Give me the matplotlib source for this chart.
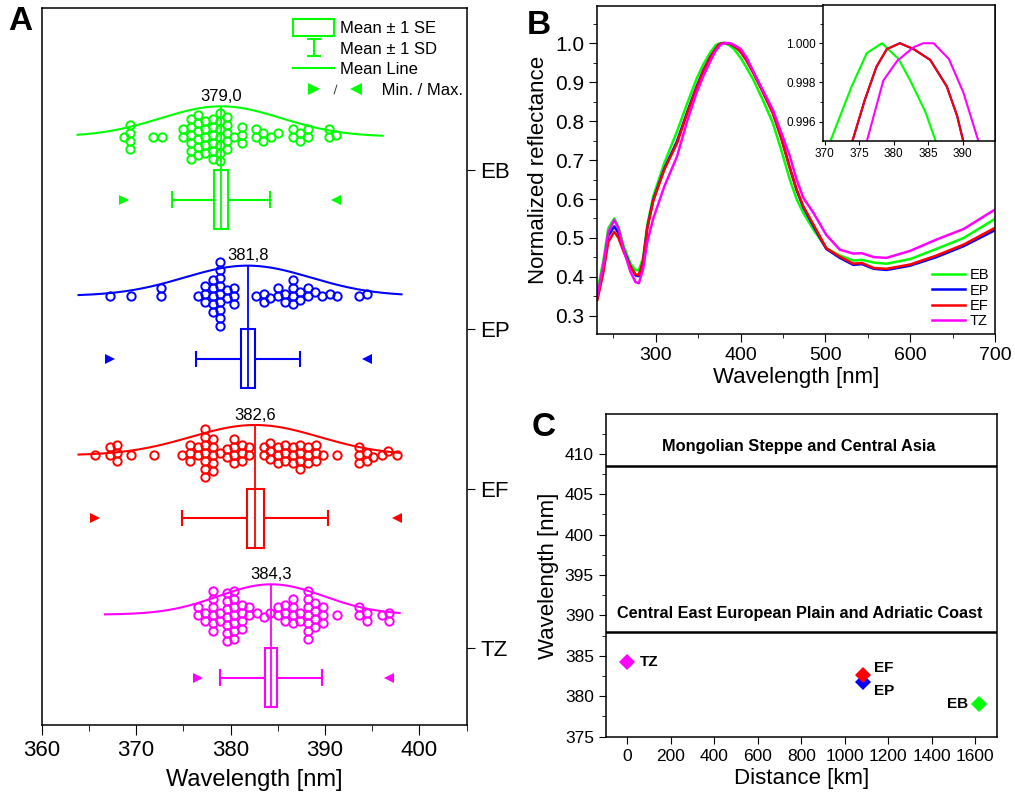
### Imports ###
import numpy as np
import matplotlib
matplotlib.use('Agg')
import matplotlib.pyplot as plt
from matplotlib.patches import Rectangle
from matplotlib.lines import Line2D
from matplotlib.legend_handler import HandlerTuple, HandlerPatch
from matplotlib.ticker import MultipleLocator, FormatStrFormatter

plt.rcParams['font.family'] = ['Liberation Sans', 'DejaVu Sans']
plt.rcParams['axes.linewidth'] = 1.1

### Data ###
groups = ['EB', 'EP', 'EF', 'TZ']
colors = ['#00ff00', '#0000ff', '#ff0000', '#ff00ff']

# panel A summary values
means = [379.0, 381.8, 382.6, 384.3]
se = [0.74, 0.75, 0.9, 0.65]
sd = [5.2, 5.5, 7.75, 5.4]
curve_sigma = [6.4, 6.7, 6.8, 5.6]
curve_lo = [363.8, 363.9, 363.9, 366.7]
curve_hi = [396.1, 398.1, 397.9, 397.9]

# panel A individual measurements (nm)
eb_vals = [368.7, 369.4, 369.4, 369.4, 369.4, 371.8, 372.7, 375.0, 375.0,
           375.8, 375.8, 375.8, 375.8, 375.8, 375.8,
           376.5, 376.5, 376.5, 376.5, 376.5, 376.5,
           377.3, 377.3, 377.3, 377.3, 377.3,
           378.1, 378.1, 378.1, 378.1, 378.1, 378.1,
           378.9, 378.9, 378.9, 378.9, 378.9, 378.9, 378.9,
           379.6, 379.6, 379.6, 379.6, 379.6, 380.4, 381.2, 381.2, 381.2,
           382.7, 382.7, 383.4, 383.4, 384.3, 385.0, 386.6, 386.6,
           387.3, 387.3, 388.2, 388.2, 390.4, 390.4, 391.2]
ep_vals = [367.2, 369.5, 372.6, 372.6, 376.5, 377.3, 377.3, 377.3,
           378.1, 378.1, 378.1, 378.1, 378.1,
           378.9, 378.9, 378.9, 378.9, 378.9, 378.9, 378.9, 378.9, 378.9,
           379.6, 379.6, 380.4, 380.4, 380.4,
           382.7, 383.5, 383.5, 384.2, 385.0, 385.0, 385.8, 385.8,
           386.6, 386.6, 386.6, 386.6, 387.3, 387.3, 388.2, 388.2,
           388.9, 389.7, 390.5, 391.3, 393.6, 394.4]
ef_vals = [365.6, 367.2, 367.2, 368.0, 368.0, 368.0, 369.5, 371.9,
           374.9, 375.7, 375.7, 375.7, 376.5, 376.5,
           377.3, 377.3, 377.3, 377.3, 377.3, 377.3, 377.3,
           378.1, 378.1, 378.1, 378.1, 378.1, 378.9, 379.6, 379.6,
           380.4, 380.4, 380.4, 380.4, 381.2, 381.2, 381.2, 382.0, 382.0,
           383.5, 383.5, 384.2, 384.2, 384.2, 385.0, 385.0, 385.0,
           385.8, 385.8, 385.8, 386.6, 386.6, 386.6,
           387.4, 387.4, 387.4, 387.4, 388.2, 388.2, 388.2,
           389.0, 389.0, 389.0, 389.8, 391.3, 393.6, 393.6, 393.6,
           394.4, 394.4, 395.1, 396.0, 396.7, 397.6]
tz_vals = [376.5, 376.5, 377.3, 377.3,
           378.1, 378.1, 378.1, 378.1, 378.1, 378.1, 378.9, 378.9,
           379.6, 379.6, 379.6, 379.6, 379.6, 379.6, 379.6,
           380.4, 380.4, 380.4, 380.4, 380.4, 380.4, 380.4,
           381.2, 381.2, 381.2, 381.2, 382.0, 382.0, 382.8, 383.5, 384.2,
           385.0, 385.0, 385.8, 385.8, 385.8,
           386.6, 386.6, 386.6, 386.6, 387.4, 387.4,
           388.2, 388.2, 388.2, 388.2, 388.2, 388.2, 388.2,
           388.9, 388.9, 388.9, 388.9, 389.8, 389.8, 389.8,
           391.3, 393.6, 393.6, 394.4, 394.4, 396.0, 396.8, 396.8]
group_vals = [eb_vals, ep_vals, ef_vals, tz_vals]

# panel B normalized reflectance spectra
wl_eb = [231, 238, 244, 251, 256, 262, 270, 276, 280, 285, 290, 297, 310,
         325, 337, 348, 356, 364,
         370.8, 373.9, 376.1, 378.3, 380.7, 382.4, 384.6, 386.1,
         392, 400, 407, 415, 426, 438, 448, 458, 466, 474, 486, 501, 517,
         533, 543, 557, 572, 600, 631, 663, 700]
r_eb = [0.363, 0.440, 0.525, 0.550, 0.528, 0.480, 0.435, 0.418, 0.417,
        0.450, 0.535, 0.607, 0.692, 0.773, 0.845, 0.908, 0.945, 0.975,
        0.995, 0.9978, 0.9995, 1.0, 0.9992, 0.9981, 0.9965, 0.995,
        0.985, 0.962, 0.937, 0.906, 0.855, 0.795, 0.725, 0.650, 0.600,
        0.564, 0.521, 0.474, 0.455, 0.442, 0.444, 0.437, 0.434, 0.446,
        0.472, 0.500, 0.549]
wl_ep = [231, 238, 244, 251, 256, 262, 270, 276, 280, 285, 290, 297, 310,
         325, 337, 348, 356, 364,
         374.0, 375.8, 377.5, 379.0, 380.9, 382.9, 385.3, 387.7, 389.2, 390.1,
         395, 400, 407, 415, 426, 438, 448, 458, 466, 474, 486, 501, 517,
         533, 543, 557, 572, 600, 631, 663, 700]
r_ep = [0.345, 0.420, 0.505, 0.530, 0.512, 0.470, 0.428, 0.404, 0.402,
        0.440, 0.527, 0.598, 0.678, 0.748, 0.823, 0.888, 0.930, 0.964,
        0.995, 0.9971, 0.9988, 0.9997, 1.0, 0.9997, 0.99915, 0.9978, 0.9963,
        0.995, 0.988, 0.978, 0.956, 0.925, 0.877, 0.822, 0.757, 0.680,
        0.623, 0.578, 0.530, 0.472, 0.449, 0.431, 0.433, 0.421, 0.418,
        0.429, 0.451, 0.479, 0.520]
wl_ef = [231, 238, 244, 251, 256, 262, 270, 276, 280, 285, 290, 297, 310,
         325, 337, 348, 356, 364,
         374.0, 375.8, 377.5, 379.0, 380.9, 382.9, 385.3, 387.7, 389.2, 390.1,
         395, 400, 407, 415, 426, 438, 448, 458, 466, 474, 486, 501, 517,
         533, 543, 557, 572, 600, 631, 663, 700]
r_ef = [0.341, 0.410, 0.490, 0.516, 0.500, 0.465, 0.427, 0.407, 0.405,
        0.440, 0.525, 0.595, 0.675, 0.743, 0.820, 0.885, 0.928, 0.963,
        0.995, 0.9971, 0.9988, 0.9997, 1.0, 0.9997, 0.99915, 0.9978, 0.9963,
        0.995, 0.988, 0.978, 0.955, 0.923, 0.875, 0.820, 0.755, 0.680,
        0.625, 0.581, 0.534, 0.474, 0.452, 0.434, 0.436, 0.423, 0.421,
        0.432, 0.455, 0.483, 0.526]
wl_tz = [231, 238, 244, 251, 256, 262, 270, 276, 280, 285, 290, 297, 310,
         325, 337, 348, 356, 364, 370,
         376.1, 378.5, 380.5, 382.9, 384.3, 385.8, 388.0, 390.1, 392.3,
         400, 407, 415, 426, 438, 448, 458, 466, 474, 486, 501, 517,
         533, 543, 557, 572, 600, 631, 663, 700]
r_tz = [0.350, 0.430, 0.515, 0.546, 0.525, 0.470, 0.414, 0.387, 0.384,
        0.420, 0.490, 0.550, 0.632, 0.709, 0.800, 0.872, 0.915, 0.952, 0.978,
        0.995, 0.9981, 0.9991, 0.9998, 1.0, 1.0, 0.9992, 0.9975, 0.995,
        0.985, 0.963, 0.927, 0.880, 0.829, 0.770, 0.710, 0.650,
        0.603, 0.564, 0.508, 0.470, 0.460, 0.461, 0.451, 0.449, 0.467,
        0.496, 0.523, 0.573]
spectra = [(wl_eb, r_eb), (wl_ep, r_ep), (wl_ef, r_ef), (wl_tz, r_tz)]

# panel C: distance vs mean wavelength
distance_km = [1620, 1085, 1085, 0]
region_lines = [408.5, 387.9]
region_names = ['Mongolian Steppe and Central Asia',
                'Central East European Plain and Adriatic Coast']


### Functions ###
def swarm_y(ax, vals, y0, diam=7.6, step=2.0):
    """Simple beeswarm: stack points around y0 without overlap (display px)."""
    xy = ax.transData.transform(np.column_stack([vals, np.full(len(vals), y0)]))
    base = xy[0, 1]
    placed = []
    for x in xy[:, 0]:
        k = 0
        off = None
        while off is None:
            cands = [0.0] if k == 0 else [k * step, -k * step]
            for c in cands:
                if all((x - px) ** 2 + (c - py) ** 2 >= diam ** 2
                       for px, py in placed):
                    off = c
                    break
            k += 1
        placed.append((x, off))
    pts = np.array([(x, base + o) for x, o in placed])
    return ax.transData.inverted().transform(pts)[:, 1]


def rect_handle(legend, orig_handle, xdescent, ydescent, width, height, fontsize):
    return Rectangle((-xdescent, -ydescent - 0.25 * height), width, 1.5 * height)


class WideTuple(HandlerTuple):
    # spreads the min/max markers a bit to the right of the handle box
    def create_artists(self, legend, orig_handle, xdescent, ydescent,
                       width, height, fontsize, trans):
        return super().create_artists(legend, orig_handle,
                                      xdescent - 0.32 * width, ydescent,
                                      1.39 * width, height, fontsize, trans)


### Figure ###
fig = plt.figure(figsize=(10.15, 8.05), dpi=100)
W, H = 1015, 805


def box(l, t, r, b):
    return [l / W, 1 - b / H, (r - l) / W, (b - t) / H]


# ---------------- Panel A ----------------
ax = fig.add_axes(box(41.7, 8, 466.7, 725))
ax.set_xlim(360, 405)
ax.set_ylim(4.483, -0.017)
for i, (g, c) in enumerate(zip(groups, colors)):
    pos = i + 1
    m = means[i]
    base = pos - 0.21
    # distribution curve
    xc = np.linspace(curve_lo[i], curve_hi[i], 200)
    ax.plot(xc, base - 0.19 * np.exp(-0.5 * ((xc - m) / curve_sigma[i]) ** 2),
            color=c, lw=1.5, zorder=2)
    # mean line through the swarm and the box
    ax.vlines(m, pos - 0.40, pos + 0.37, color=c, lw=1.3, zorder=4)
    ax.text(m, pos - 0.415, f'{m:.1f}'.replace('.', ','), ha='center',
            va='bottom', fontsize=12)
    # box = mean +- SE, whiskers = mean +- SD
    wy = pos + 0.185
    ax.hlines(wy, m - sd[i], m + sd[i], color=c, lw=1.5, zorder=2)
    ax.vlines([m - sd[i], m + sd[i]], wy - 0.052, wy + 0.052, color=c, lw=1.5)
    ax.add_patch(Rectangle((m - se[i], pos), 2 * se[i], 0.37, fc='white',
                           ec=c, lw=1.5, zorder=3))
    vals = group_vals[i]
    ax.plot(min(vals), wy, '>', color=c, ms=7, mew=0)
    ax.plot(max(vals), wy, '<', color=c, ms=7, mew=0)
    # data points
    ys = swarm_y(ax, vals, base)
    ax.plot(vals, ys, 'o', mfc='none', mec=c, ms=6, mew=1.4, ls='none', zorder=5)

ax.xaxis.set_major_locator(MultipleLocator(10))
ax.xaxis.set_minor_locator(MultipleLocator(5))
ax.set_yticks([1, 2, 3, 4], groups)
ax.tick_params(axis='y', which='both', left=False, right=True,
               labelleft=False, labelright=True, direction='out',
               length=6, labelsize=16, pad=4)
ax.tick_params(axis='x', which='major', direction='out', length=7,
               labelsize=16, top=False)
ax.tick_params(axis='x', which='minor', direction='out', length=4, top=False)
ax.set_xlabel('Wavelength [nm]', fontsize=17, labelpad=6)

g0 = colors[0]
h_se = Rectangle((0, 0), 1, 1, fc='none', ec=g0, lw=1.5)
h_sd = ax.errorbar([np.nan], [np.nan], yerr=[1.0], fmt='none', ecolor=g0,
                   elinewidth=1.5, capsize=5, capthick=1.5)
h_mean = Line2D([], [], color=g0, lw=1.5)
h_mm = (Line2D([], [], marker='>', color=g0, ms=8, mew=0, ls='none'),
        Line2D([], [], marker='$/$', color='#333333', ms=7, mew=0, ls='none'),
        Line2D([], [], marker='<', color=g0, ms=8, mew=0, ls='none'))
ax.legend([h_se, h_sd, h_mean, h_mm],
          ['Mean ± 1 SE', 'Mean ± 1 SD', 'Mean Line',
           '         Min. / Max.'],
          handler_map={Rectangle: HandlerPatch(patch_func=rect_handle),
                       tuple: WideTuple(ndivide=None, pad=0.45)},
          loc='upper left', bbox_to_anchor=(0.565, 0.998), frameon=False,
          fontsize=12, handlelength=2.45, handletextpad=0.36,
          labelspacing=0.33, borderpad=0.2)

# ---------------- Panel B ----------------
axb = fig.add_axes(box(597.3, 6, 995, 334.3))
for (wl, r), c, g in zip(spectra, colors, groups):
    axb.plot(wl, r, color=c, lw=1.8, label=g)
axb.set_xlim(231, 700)
axb.set_ylim(0.253, 1.095)
axb.xaxis.set_major_locator(MultipleLocator(100))
axb.xaxis.set_minor_locator(MultipleLocator(50))
axb.yaxis.set_major_locator(MultipleLocator(0.1))
axb.yaxis.set_minor_locator(MultipleLocator(0.05))
axb.yaxis.set_major_formatter(FormatStrFormatter('%.1f'))
axb.tick_params(which='major', direction='out', length=6)
axb.tick_params(which='minor', direction='out', length=3)
axb.tick_params(axis='y', labelsize=15)
axb.tick_params(axis='x', labelsize=14)
axb.set_xlabel('Wavelength [nm]', fontsize=16, labelpad=2)
axb.set_ylabel('Normalized reflectance', fontsize=16, labelpad=4)
axb.legend(loc='lower right', bbox_to_anchor=(1.0, 0.0), frameon=False,
           fontsize=10.5, handlelength=2.3, handletextpad=0.3,
           labelspacing=0.1, borderpad=0.2, borderaxespad=0.2)

# inset
axi = fig.add_axes(box(822.7, 5, 995, 140.7))
for (wl, r), c in zip(spectra, colors):
    axi.plot(wl, r, color=c, lw=1.5)
axi.set_xlim(369.7, 394.7)
axi.set_ylim(0.99503, 1.00195)
axi.xaxis.set_major_locator(MultipleLocator(5))
axi.yaxis.set_major_locator(MultipleLocator(0.002))
axi.yaxis.set_minor_locator(MultipleLocator(0.001))
axi.yaxis.set_major_formatter(FormatStrFormatter('%.3f'))
axi.tick_params(which='major', direction='out', length=3, labelsize=8.5, pad=2)
axi.tick_params(which='minor', direction='out', length=2)

# ---------------- Panel C ----------------
axc = fig.add_axes(box(605.7, 414.3, 996.7, 736.7))
for d, m, c in zip(distance_km, means, colors):
    axc.plot(d, m, 'D', color=c, ms=8, mew=0)
for y in region_lines:
    axc.axhline(y, color='black', lw=1.8)
axc.text(790, 410.9, region_names[0], ha='center', va='center',
         fontsize=11.8, weight='bold')
axc.text(795, 390.2, region_names[1], ha='center', va='center',
         fontsize=11.7, weight='bold')
# point labels
axc.annotate('TZ', (distance_km[3], means[3]), xytext=(9, 0),
             textcoords='offset points', va='center', ha='left',
             fontsize=11, weight='bold')
axc.annotate('EF', (distance_km[2], means[2]), xytext=(8, 5),
             textcoords='offset points', va='center', ha='left',
             fontsize=11, weight='bold')
axc.annotate('EP', (distance_km[1], means[1]), xytext=(8, -7),
             textcoords='offset points', va='center', ha='left',
             fontsize=11, weight='bold')
axc.annotate('EB', (distance_km[0], means[0]), xytext=(-8, 0),
             textcoords='offset points', va='center', ha='right',
             fontsize=11, weight='bold')
axc.set_xlim(-100, 1700)
axc.set_ylim(375, 414.9)
axc.xaxis.set_major_locator(MultipleLocator(200))
axc.yaxis.set_major_locator(MultipleLocator(5))
axc.yaxis.set_minor_locator(MultipleLocator(2.5))
axc.tick_params(which='major', direction='out', length=5, labelsize=12.5)
axc.tick_params(which='minor', direction='out', length=3)
axc.set_xlabel('Distance [km]', fontsize=16, labelpad=3)
axc.set_ylabel('Wavelength [nm]', fontsize=16, labelpad=4)

# panel letters
for lbl, x, y in [('A', 8, 6), ('B', 527, 10), ('C', 532, 412)]:
    fig.text(x / W, 1 - y / H, lbl, fontsize=24, weight='bold', va='top')

fig.savefig('out.png', dpi=100)
